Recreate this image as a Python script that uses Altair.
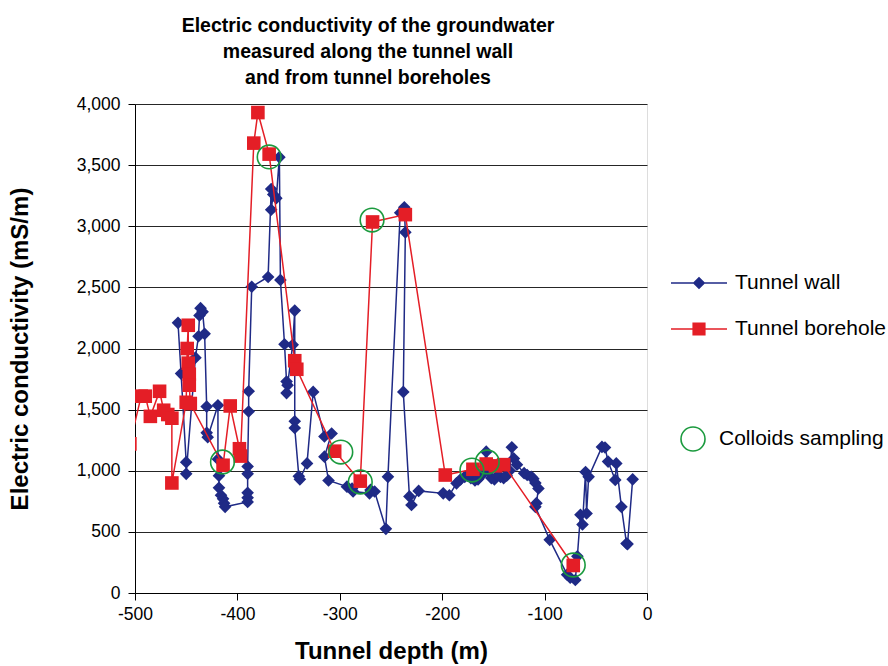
import altair as alt
import pandas as pd

# ---- measurements -------------------------------------------------------
# Tunnel wall samples (depth in m, electric conductivity in mS/m), in sampling order
wall_depth = [-458, -455, -450, -450, -441, -438, -437, -436, -434, -432,
              -430, -430, -429, -419, -419, -418, -418, -416, -414, -413,
              -412, -390, -390, -390, -390, -390, -389, -389, -386, -370,
              -367, -367, -365, -362, -359, -358, -354, -352, -351, -352,
              -346, -344, -344, -344, -340, -339, -332, -326, -315, -308,
              -315, -311, -293, -288, -287, -271, -270, -266, -255, -253,
              -241, -237, -236, -238, -232, -230, -223, -199, -193, -186,
              -182, -178, -175, -172, -168, -165, -162, -160, -157, -155,
              -152, -149, -146, -143, -140, -137, -134, -132, -130, -127,
              -120, -117, -113, -111, -109, -106, -108, -109, -95, -78,
              -75, -70, -68, -65, -63, -60, -59, -57, -44, -41,
              -38, -31, -30, -25, -20, -19, -14]
wall_ec = [2210, 1795, 1070, 975, 1925, 2100, 2270, 2330, 2300, 2120,
           1525, 1310, 1275, 1535, 1095, 960, 860, 800, 770, 735,
           705, 745, 780, 820, 975, 1035, 1485, 1650, 2505, 2585,
           3305, 3135, 3260, 3230, 3565, 2560, 2035, 1730, 1700, 1635,
           2030, 2310, 1405, 1350, 955, 930, 1060, 1645, 1280, 1305,
           1115, 920, 870, 855, 830, 815, 843, 830, 525, 950,
           3110, 3155, 2950, 1645, 790, 720, 835, 815, 800, 897,
           930, 950, 960, 940, 920, 930, 960, 990, 1156, 1000,
           940, 930, 960, 950, 940, 960, 1000, 1192, 1100, 1050,
           980, 965, 950, 935, 900, 855, 735, 705, 435, 150,
           125, 106, 300, 640, 560, 990, 650, 950, 1195, 1190,
           1075, 925, 1060, 705, 405, 400, 930]

# Tunnel borehole samples
bore_depth = [-505, -494, -490, -485, -476, -472, -468, -464, -464, -450,
              -449, -448, -448, -447, -447, -446, -414, -407, -398, -397,
              -384, -380, -369, -344, -342, -305, -280, -268, -236, -197,
              -170, -157, -148, -140, -72]
bore_ec = [1220, 1610, 1610, 1445, 1650, 1495, 1460, 1430, 900, 1560,
           2000, 2190, 1880, 1790, 1700, 1550, 1045, 1530, 1180, 1120,
           3680, 3930, 3590, 1900, 1830, 1160, 915, 3035, 3095, 965,
           1012, 1055, 1040, 1050, 225]

# Points where colloids were sampled
colloid_depth = [-414.6, -369, -299, -280, -268.5, -171, -156, -72]
colloid_ec = [1072, 3567, 1153, 908, 3051, 1006, 1072, 229]

series_names = ["Tunnel wall", "Tunnel borehole"]
series_colors = ["#1f2a86", "#e41e26"]
series_marks = ["diamond", "square"]
# legend glyphs: a thin bar (the line) with the marker in the middle
legend_paths = [
    "M-2,-0.055L2,-0.055L2,0.055L-2,0.055Z M0,-0.45L0.45,0L0,0.45L-0.45,0Z",
    "M-2,-0.055L2,-0.055L2,0.055L-2,0.055Z M-0.47,-0.47L0.47,-0.47L0.47,0.47L-0.47,0.47Z",
]

FONT = "Liberation Sans"

wall = pd.DataFrame({"depth": wall_depth, "ec": wall_ec, "idx": range(len(wall_depth))})
bore = pd.DataFrame({"depth": bore_depth, "ec": bore_ec, "idx": range(len(bore_depth))})
colloids = pd.DataFrame({"depth": colloid_depth, "ec": colloid_ec,
                         "kind": "Colloids sampling"})
# rows that only feed the series legend (they sit outside the x domain and are clipped)
legend_rows = pd.DataFrame({"depth": [60, 60], "ec": [0, 0], "series": series_names})

x_enc = alt.X(
    "depth:Q",
    scale=alt.Scale(domain=[-500, 0], nice=False, zero=False),
    axis=alt.Axis(
        values=[-500, -400, -300, -200, -100, 0],
        grid=False, tickSize=7, tickColor="#000", domainColor="#000",
        labelFont=FONT, labelFontSize=17.5, labelColor="#000", labelPadding=5,
        labelFlush=False, labelExpr="'' + datum.value",
        title="Tunnel depth (m)", titleFont=FONT, titleFontSize=24,
        titleFontWeight="bold", titleColor="#000",
        titleX=256, titleY=58, titleAlign="center", titleBaseline="middle",
    ),
)
y_enc = alt.Y(
    "ec:Q",
    scale=alt.Scale(domain=[0, 4000], nice=False),
    axis=alt.Axis(
        values=list(range(0, 4001, 500)), format=",.0f",
        grid=True, gridColor="#262626", gridWidth=1,
        tickSize=7, tickColor="#000", domainColor="#000",
        labelFont=FONT, labelFontSize=17.5, labelColor="#000", labelPadding=8,
        labelFlush=False,
        title="Electric conductivity (mS/m)", titleFont=FONT, titleFontSize=24,
        titleFontWeight="bold", titleColor="#000",
        titleX=-115, titleY=244.5, titleAlign="center", titleBaseline="middle",
        titleAngle=-90,
    ),
)

series_legend = alt.Legend(
    title=None, orient="none", legendX=550, legendY=165, padding=0,
    symbolSize=784, labelFont=FONT, labelFontSize=21, labelColor="#000",
    labelOffset=22, rowPadding=22, symbolOpacity=1, symbolStrokeWidth=0,
    labelLimit=400,
)


def series_layers(df, color, shape, size):
    line = alt.Chart(df).mark_line(strokeWidth=1.5, color=color, clip=True).encode(
        x=x_enc, y=y_enc, order="idx:Q",
    )
    pts = alt.Chart(df).mark_point(filled=True, opacity=1, color=color, shape=shape,
                                   size=size, clip=True).encode(
        x=x_enc, y=y_enc,
    )
    return [line, pts]


wall_layers = series_layers(wall, series_colors[0], series_marks[0], 160)
bore_layers = series_layers(bore, series_colors[1], series_marks[1], 185)

legend_layer = alt.Chart(legend_rows).mark_point(filled=True, opacity=1, clip=True).encode(
    x=x_enc, y=y_enc,
    color=alt.Color("series:N", scale=alt.Scale(domain=series_names, range=series_colors),
                    legend=series_legend),
    shape=alt.Shape("series:N", scale=alt.Scale(domain=series_names, range=legend_paths),
                    legend=series_legend),
)

colloid_layer = alt.Chart(colloids).mark_point(
    shape="circle", filled=False, size=560, strokeWidth=1.6, opacity=1, clip=True
).encode(
    x=x_enc, y=y_enc,
    stroke=alt.Stroke(
        "kind:N", scale=alt.Scale(range=["#1b9a3e"]),
        legend=alt.Legend(
            title=None, orient="none", legendX=545, legendY=322, padding=0,
            symbolSize=576, symbolStrokeWidth=1.6, symbolType="circle",
            labelFont=FONT, labelFontSize=21, labelColor="#000", labelOffset=13,
            labelLimit=400,
        ),
    ),
)

chart = alt.layer(
    *wall_layers, *bore_layers, legend_layer, colloid_layer
).properties(
    width=512, height=489,
    padding={"left": 135, "top": 104, "right": 241, "bottom": 73},
    autosize=alt.AutoSizeParams(type="none"),
    title=alt.TitleParams(
        text=["Electric conductivity of the groundwater",
              "measured along the tunnel wall",
              "and from tunnel boreholes"],
        font=FONT, fontSize=19.5, fontWeight="bold", color="#000",
        anchor="middle", dx=-23, offset=7, lineHeight=26,
    ),
).configure_view(
    stroke="#444", strokeWidth=1,
).configure(
    background="white",
)

chart.save("out.html", embed_options={"renderer": "svg", "actions": False})
